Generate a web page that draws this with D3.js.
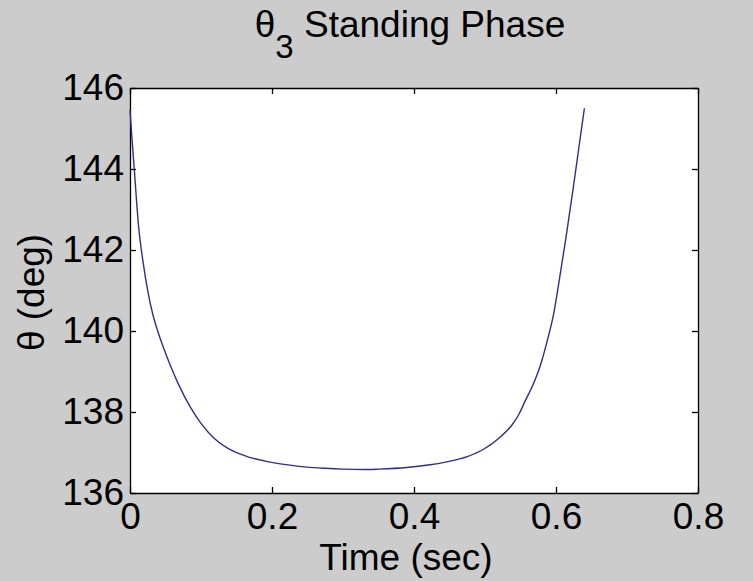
<!DOCTYPE html>
<html>
<head>
<meta charset="utf-8">
<script src="https://cdn.jsdelivr.net/npm/d3@7/dist/d3.min.js"></script>
<style>
  html, body { margin: 0; padding: 0; background: #cccccc; }
  svg { display: block; }
  text { font-family: Arial, "Liberation Sans", sans-serif; fill: #000; }
</style>
</head>
<body>
<script>
// Joint angle theta_3 over the standing phase
const timeSec = [0, 0.003, 0.006, 0.012, 0.018, 0.026, 0.032, 0.039, 0.048, 0.058, 0.07, 0.085,
  0.1, 0.118, 0.138, 0.165, 0.195, 0.22, 0.249, 0.275, 0.30, 0.33, 0.35, 0.39, 0.42, 0.446,
  0.475, 0.498, 0.52, 0.538, 0.548, 0.556, 0.567, 0.577, 0.589, 0.597, 0.605, 0.614,
  0.624, 0.632, 0.64];
const thetaDeg = [145.45, 144.7, 144.0, 142.6, 141.75, 140.9, 140.42, 140.0, 139.55, 139.1, 138.62, 138.12,
  137.72, 137.36, 137.1, 136.9, 136.77, 136.70, 136.64, 136.61, 136.59, 136.58, 136.59, 136.63, 136.69, 136.77,
  136.9, 137.08, 137.36, 137.68, 137.95, 138.25, 138.65, 139.1, 139.85, 140.45, 141.3, 142.3,
  143.5, 144.5, 145.5];
const xTicks = [0, 0.2, 0.4, 0.6, 0.8];
const yTicks = [136, 138, 140, 142, 144, 146];

const W = 753, H = 581;
const plot = { left: 130, top: 88, right: 698, bottom: 493 };

const svg = d3.select("body").append("svg").attr("width", W).attr("height", H);
svg.append("rect").attr("width", W).attr("height", H).attr("fill", "#cccccc");

const x = d3.scaleLinear().domain([0, 0.8]).range([plot.left, plot.right]);
const y = d3.scaleLinear().domain([136, 146]).range([plot.bottom, plot.top]);

// white axes box
svg.append("rect")
  .attr("x", plot.left).attr("y", plot.top)
  .attr("width", plot.right - plot.left).attr("height", plot.bottom - plot.top)
  .attr("fill", "#ffffff");

const tickLen = 6;
const fs = 37;

// axes with inward ticks, boxed on all four sides
const xAxis = svg.append("g").attr("transform", `translate(0,${plot.bottom})`)
  .call(d3.axisBottom(x).tickValues(xTicks).tickSizeInner(-tickLen).tickSizeOuter(0)
    .tickFormat(d => d3.format("")(d)).tickPadding(10));
const xTop = svg.append("g").attr("transform", `translate(0,${plot.top})`)
  .call(d3.axisTop(x).tickValues(xTicks).tickSizeInner(-tickLen).tickSizeOuter(0).tickFormat(""));
const yAxis = svg.append("g").attr("transform", `translate(${plot.left},0)`)
  .call(d3.axisLeft(y).tickValues(yTicks).tickSizeInner(-tickLen).tickSizeOuter(0).tickPadding(6));
const yRight = svg.append("g").attr("transform", `translate(${plot.right},0)`)
  .call(d3.axisRight(y).tickValues(yTicks).tickSizeInner(-tickLen).tickSizeOuter(0).tickFormat(""));

[xAxis, xTop, yAxis, yRight].forEach(g => {
  g.select(".domain").attr("stroke", "#000").attr("stroke-width", 1.3);
  g.selectAll(".tick line").attr("stroke", "#000").attr("stroke-width", 1.3);
  g.selectAll(".tick text").attr("font-size", fs).attr("fill", "#000")
    .attr("font-family", "Arial, 'Liberation Sans', sans-serif");
});

// curve
const line = d3.line().x((d, i) => x(timeSec[i])).y(d => y(d)).curve(d3.curveMonotoneX);
svg.append("path").datum(thetaDeg)
  .attr("d", line)
  .attr("fill", "none")
  .attr("stroke", "#2f2f88")
  .attr("stroke-width", 1.4);

// title with subscript
const title = svg.append("text")
  .attr("x", (plot.left + plot.right) / 2 - 4).attr("y", 37)
  .attr("text-anchor", "middle").attr("font-size", fs);
title.append("tspan").text("θ");
title.append("tspan").attr("dy", 21).attr("font-size", 33).text("3");
title.append("tspan").attr("dy", -21).text(" Standing Phase");

// axis labels
svg.append("text")
  .attr("x", (plot.left + plot.right) / 2 - 8).attr("y", 570)
  .attr("text-anchor", "middle").attr("font-size", fs)
  .text("Time (sec)");
svg.append("text")
  .attr("transform", `translate(44,${(plot.top + plot.bottom) / 2 + 2}) rotate(-90)`)
  .attr("text-anchor", "middle").attr("font-size", fs)
  .text("θ (deg)");
</script>
</body>
</html>
